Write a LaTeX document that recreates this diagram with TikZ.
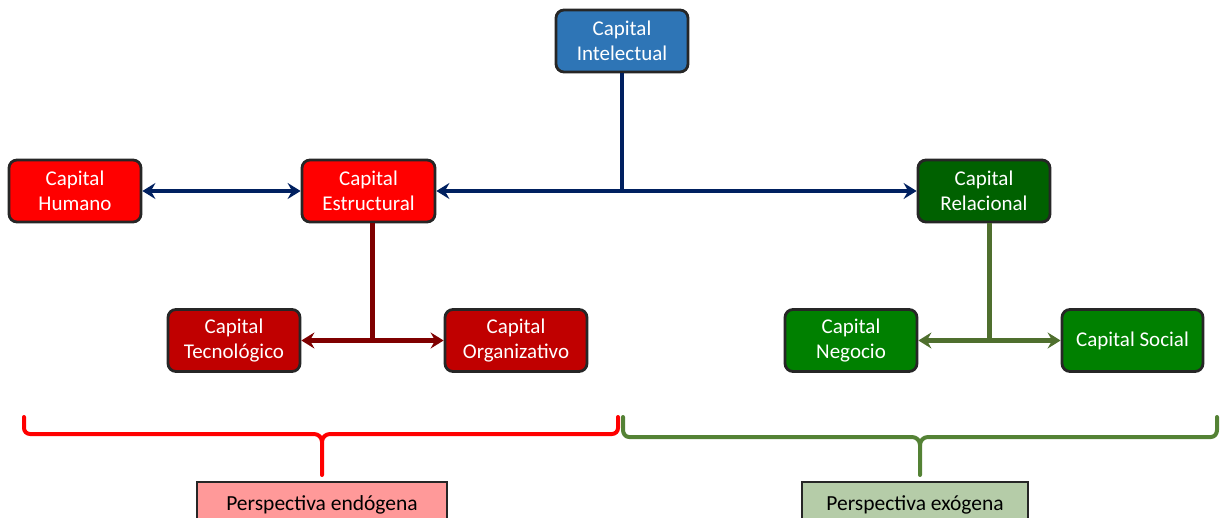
\documentclass[tikz,border=0pt]{standalone}
\usepackage{fontspec}
\setmainfont{Carlito}
\usetikzlibrary{arrows.meta,calc}
\definecolor{cblue}{HTML}{2E75B6}
\definecolor{navy}{HTML}{002060}
\definecolor{cred}{HTML}{FF0000}
\definecolor{dred}{HTML}{C00000}
\definecolor{maroon}{HTML}{7F0000}
\definecolor{dgreen}{HTML}{006100}
\definecolor{cgreen}{HTML}{008000}
\definecolor{olive}{HTML}{4F6F2E}
\definecolor{braceg}{HTML}{548235}
\definecolor{pink}{HTML}{FF9999}
\definecolor{sage}{HTML}{B5CCA8}
\begin{document}
\begin{tikzpicture}[x=1pt,y=-1pt,
  capbox/.style={draw=black!85,line width=2.8pt,rounded corners=8pt,
    text=white,align=center,inner sep=0pt,minimum height=62pt,
    font=\fontsize{21}{25}\selectfont},
  persp/.style={draw=black!85,line width=2.2pt,inner sep=0pt,
    minimum height=46pt,font=\fontsize{21.5}{25}\selectfont},
  link/.style={line width=4.2pt},
  tip/.style={{Stealth[length=13pt,width=16pt,inset=4.5pt]}-{Stealth[length=13pt,width=16pt,inset=4.5pt]}},
  brace/.style={line width=4pt,line cap=round,line join=round}]
\useasboundingbox (0,0) rectangle (1223,518);
\clip (0,0) rectangle (1223,518);

% capital boxes
\node[capbox,fill=cblue,minimum width=132pt] (I) at (622,41) {Capital\\Intelectual};
\node[capbox,fill=cred,minimum width=132pt] (H) at (75,191) {Capital\\Humano};
\node[capbox,fill=cred,minimum width=133pt] (E) at (368.5,191) {Capital\\Estructural};
\node[capbox,fill=dgreen,minimum width=132pt] (R) at (984,191) {Capital\\Relacional};
\node[capbox,fill=dred,minimum width=132pt] (T) at (234,340.5) {Capital\\Tecnológico};
\node[capbox,fill=dred,minimum width=142pt] (O) at (516,340.5) {Capital\\Organizativo};
\node[capbox,fill=cgreen,minimum width=132pt] (N) at (851,340.5) {Capital\\Negocio};
\node[capbox,fill=cgreen,minimum width=141pt] (S) at (1132.5,340.5) {Capital Social};

% perspective labels
\node[persp,fill=pink,minimum width=250pt,anchor=north] (PEn) at (322,481) {Perspectiva endógena};
\node[persp,fill=sage,minimum width=226pt,anchor=north] (PEx) at (915,481) {Perspectiva exógena};

% intellectual capital links
\draw[link,navy,tip] (H.east) -- (E.west);
\draw[link,navy,tip] (E.east) -- (R.west);
\draw[link,navy] (I.south) -- (I.south |- E.east);

% structural capital links
\coordinate (em) at ($(T.east)!0.5!(O.west)$);
\draw[link,maroon,tip] (T.east) -- (O.west);
\draw[link,maroon] (E.south -| em) -- (em);

% relational capital links
\coordinate (rm) at ($(N.east)!0.5!(S.west)$);
\draw[link,olive,tip] (N.east) -- (S.west);
\draw[link,olive] (R.south -| rm) -- (rm);

% endogenous brace
\draw[brace,cred] (24,417) -- (24,428) to[out=-90,in=180] (30,434) -- (314,434)
  to[out=0,in=90] (322,442) -- (322,475);
\draw[brace,cred] (618,417) -- (618,428) to[out=-90,in=0] (612,434) -- (330,434)
  to[out=180,in=90] (322,442);

% exogenous brace
\draw[brace,braceg] (623,417) -- (623,430) to[out=-90,in=180] (629,437) -- (912,437)
  to[out=0,in=90] (920,445) -- (920,475);
\draw[brace,braceg] (1217,417) -- (1217,430) to[out=-90,in=0] (1211,437) -- (928,437)
  to[out=180,in=90] (920,445);
\end{tikzpicture}
\end{document}
